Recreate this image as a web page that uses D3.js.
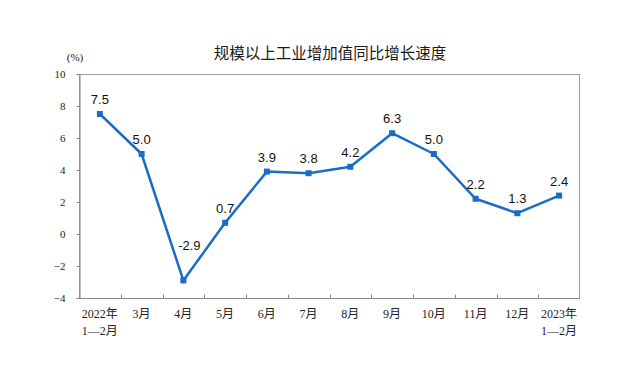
<!DOCTYPE html>
<html>
<head>
<meta charset="utf-8">
<script src="https://cdn.jsdelivr.net/npm/d3@7"></script>
<style>
  html, body { margin: 0; padding: 0; background: #fff; }
  svg { display: block; }
</style>
</head>
<body>
<svg id="chart" width="640" height="371"></svg>
<script>
const title = "规模以上工业增加值同比增长速度";
const unitLabel = "(%)";
const categories = ["2022年\n1—2月", "3月", "4月", "5月", "6月", "7月", "8月", "9月", "10月", "11月", "12月", "2023年\n1—2月"];
const values = [7.5, 5.0, -2.9, 0.7, 3.9, 3.8, 4.2, 6.3, 5.0, 2.2, 1.3, 2.4];
const yTicks = [-4, -2, 0, 2, 4, 6, 8, 10];
const yDomain = [-4, 10];

const svg = d3.select("#chart");
const margin = { left: 79, right: 60, top: 74, bottom: 73 };
const W = 640, H = 371;
const x0 = margin.left, x1 = W - margin.right, y0 = margin.top, y1 = H - margin.bottom;

const x = d3.scaleBand().domain(d3.range(categories.length)).range([x0, x1]).padding(0);
const y = d3.scaleLinear().domain(yDomain).range([y1, y0]);

const serif = "'Liberation Serif','Times New Roman','Noto Sans CJK SC',serif";
const lineColor = "#1b6cc6";

// title
svg.append("text")
  .attr("x", 330).attr("y", 59)
  .attr("text-anchor", "middle")
  .attr("font-family", "'Noto Sans CJK SC',sans-serif")
  .attr("font-size", 15.5)
  .attr("fill", "#1a1a1a")
  .text(title);

svg.append("text")
  .attr("x", 75).attr("y", 61)
  .attr("text-anchor", "middle")
  .attr("font-family", serif)
  .attr("font-size", 11)
  .attr("fill", "#222")
  .text(unitLabel);

// frame
svg.append("rect")
  .attr("x", x0 + 0.5).attr("y", y0 + 0.5)
  .attr("width", x1 - x0 - 1).attr("height", y1 - y0)
  .attr("fill", "none").attr("stroke", "#a0a0a0").attr("stroke-width", 1);

// y axis
const yAxis = d3.axisLeft(y).tickValues(yTicks).tickSize(3).tickPadding(11)
  .tickFormat(d3.format("d"));
const gy = svg.append("g").attr("transform", `translate(${x0 + 0.5},0)`).call(yAxis);
gy.select(".domain").attr("stroke", "#888");
gy.selectAll(".tick line").attr("stroke", "#888");
gy.selectAll(".tick text")
  .attr("font-family", serif).attr("font-size", 11).attr("fill", "#222");

// x axis: ticks at band boundaries, pointing inward
const gx = svg.append("g").attr("transform", `translate(0,${y1 + 0.5})`);
gx.append("line").attr("x1", x0).attr("x2", x1).attr("stroke", "#888");
const boundaries = d3.range(1, categories.length).map(i => x(i));
gx.selectAll("line.tk").data(boundaries).join("line").attr("class", "tk")
  .attr("x1", d => Math.round(d) + 0.5).attr("x2", d => Math.round(d) + 0.5)
  .attr("y1", 0).attr("y2", -4).attr("stroke", "#888");
const labels = gx.selectAll("text.lbl").data(categories).join("text").attr("class", "lbl")
  .attr("x", (d, i) => x(i) + x.bandwidth() / 2)
  .attr("y", 19)
  .attr("text-anchor", "middle")
  .attr("font-family", serif).attr("font-size", 12).attr("fill", "#222");
labels.each(function(d) {
  const parts = d.split("\n");
  const t = d3.select(this);
  parts.forEach((p, k) => {
    t.append("tspan").attr("x", t.attr("x")).attr("dy", k === 0 ? 0 : 17).text(p);
  });
});

// line
const cx = i => x(i) + x.bandwidth() / 2;
const line = d3.line().x((d, i) => cx(i)).y(d => y(d));
svg.append("path").datum(values)
  .attr("d", line).attr("fill", "none")
  .attr("stroke", lineColor).attr("stroke-width", 2.5).attr("stroke-linejoin", "round");

svg.selectAll("rect.mk").data(values).join("rect").attr("class", "mk")
  .attr("x", (d, i) => cx(i) - 3).attr("y", d => y(d) - 3)
  .attr("width", 6).attr("height", 6).attr("fill", lineColor);

// data labels
const minVal = d3.min(values);
svg.selectAll("text.dl").data(values).join("text").attr("class", "dl")
  .attr("x", (d, i) => cx(i) + (d === minVal ? 6 : 0))
  .attr("y", d => d === minVal ? y(d) - 30 : y(d) - 10)
  .attr("text-anchor", "middle")
  .attr("font-family", "'Liberation Sans',Arial,sans-serif")
  .attr("font-size", 13).attr("fill", "#111")
  .text(d => d.toFixed(1));
</script>
</body>
</html>
